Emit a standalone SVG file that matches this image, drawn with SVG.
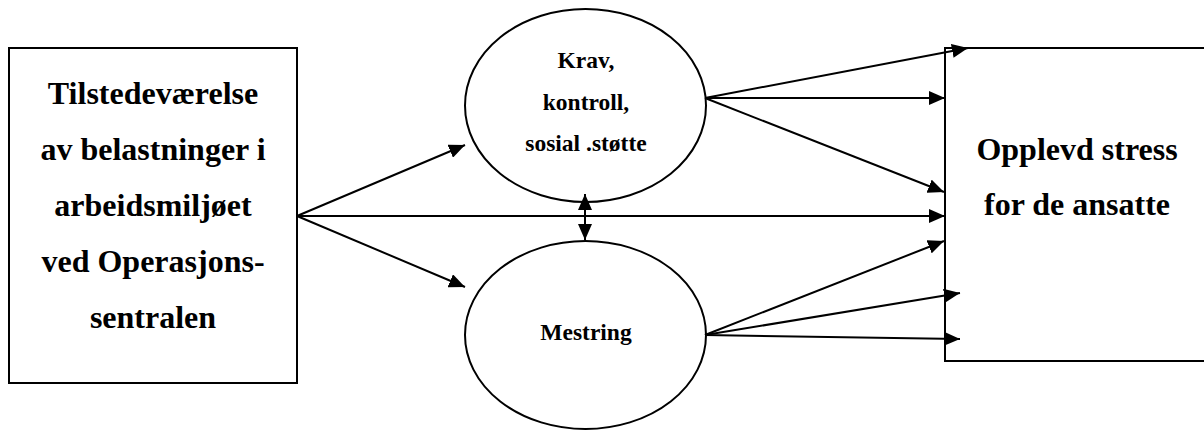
<svg xmlns="http://www.w3.org/2000/svg" width="1204" height="430" viewBox="0 0 1204 430">
<style>
.box{fill:#fff;stroke:#000;stroke-width:2}
.big{font-family:"Liberation Serif","Times New Roman",serif;font-weight:bold;font-size:32px;fill:#000;text-anchor:middle}
.small{font-family:"Liberation Serif","Times New Roman",serif;font-weight:bold;font-size:23.5px;fill:#000;text-anchor:middle}
.con{stroke:#000;stroke-width:2;fill:none}
</style>
<defs>
<marker id="ah" viewBox="0 0 16 14" refX="16" refY="7" markerWidth="16" markerHeight="14" markerUnits="userSpaceOnUse" orient="auto-start-reverse">
<path d="M0,0 L16,7 L0,14 Z" fill="#000"/>
</marker>
</defs>
<rect width="1204" height="430" fill="#fff"/>
<g id="node-left">
<rect class="box" x="9" y="48" width="288" height="335"/>
<text class="big" x="153" y="104">Tilstedeværelse</text>
<text class="big" x="153" y="160">av belastninger i</text>
<text class="big" x="153" y="216">arbeidsmiljøet</text>
<text class="big" x="153" y="272">ved Operasjons-</text>
<text class="big" x="153" y="328">sentralen</text>
</g>
<g id="node-krav">
<ellipse class="box" cx="585.5" cy="105.5" rx="120.5" ry="96.5"/>
<text class="small" x="586" y="68">Krav,</text>
<text class="small" x="586" y="110">kontroll,</text>
<text class="small" x="586" y="151">sosial .støtte</text>
</g>
<g id="node-mestring">
<ellipse class="box" cx="585.5" cy="335" rx="120.5" ry="94"/>
<text class="small" x="586" y="340">Mestring</text>
</g>
<g id="node-stress">
<rect class="box" x="945" y="48" width="300" height="313"/>
<text class="big" x="1077" y="160">Opplevd stress</text>
<text class="big" x="1077" y="215">for de ansatte</text>
</g>
<g id="connectors">
<line class="con" x1="297" y1="216" x2="465" y2="145" marker-end="url(#ah)"/>
<line class="con" x1="297" y1="216" x2="465" y2="287" marker-end="url(#ah)"/>
<line class="con" x1="297" y1="216" x2="945" y2="216" marker-end="url(#ah)"/>
<line class="con" x1="585" y1="194" x2="585" y2="240" marker-start="url(#ah)" marker-end="url(#ah)"/>
<line class="con" x1="705" y1="98" x2="968" y2="48" marker-end="url(#ah)"/>
<line class="con" x1="705" y1="98" x2="945" y2="98" marker-end="url(#ah)"/>
<line class="con" x1="705" y1="98" x2="944" y2="192" marker-end="url(#ah)"/>
<line class="con" x1="705" y1="335" x2="944" y2="241" marker-end="url(#ah)"/>
<line class="con" x1="705" y1="335" x2="960" y2="293" marker-end="url(#ah)"/>
<line class="con" x1="705" y1="335" x2="960" y2="339" marker-end="url(#ah)"/>
</g>
</svg>
